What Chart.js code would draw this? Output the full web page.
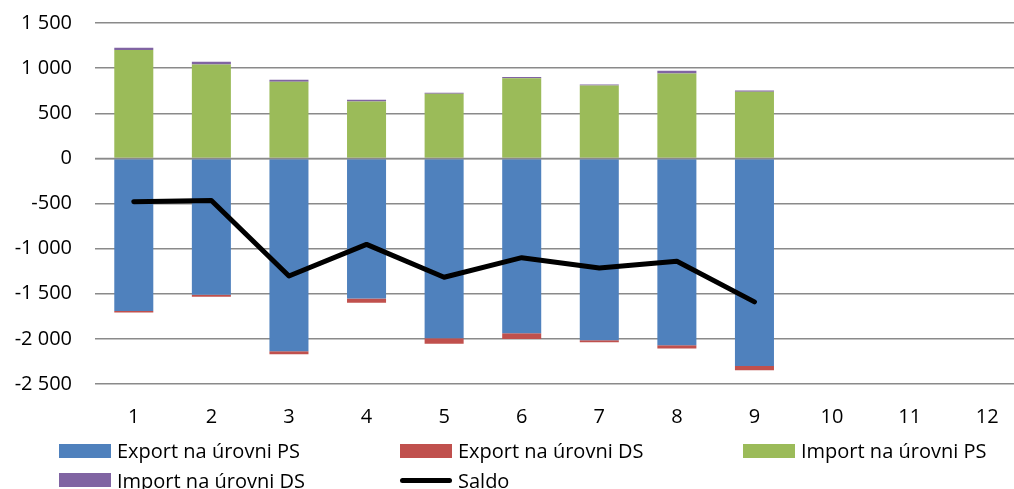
<!DOCTYPE html>
<html>
    <head>
        <meta charset="utf-8">
        <title>Export / Import</title>
        <script src="https://cdn.jsdelivr.net/npm/chart.js@4.4.0/dist/chart.umd.min.js"></script>
        <style>
            html, body {
                margin: 0;
                padding: 0;
                background: #fff;
                overflow: hidden;
            }

            #page {
                position: relative;
                width: 1014px;
                height: 489px;
                overflow: hidden;
            }

            #wrap {
                position: absolute;
                left: 0;
                top: -12px;
                width: 1040px;
                height: 501px;
            }

            #legend {
                position: absolute;
                left: 59px;
                top: 436px;
                display: grid;
                grid-template-columns: 341px 343px 300px;
                grid-auto-rows: 29.5px;
                font-family: "Open Sans", sans-serif;
                font-size: 20px;
                color: #000;
            }

            .item {
                display: flex;
                align-items: center;
                white-space: nowrap;
            }

            .box {
                width: 52px;
                height: 14px;
                margin-right: 6px;
            }

            .dash {
                width: 52px;
                height: 5px;
                border-radius: 3px;
                background: #000;
                margin-right: 6px;
            }
        </style>
    </head>

    <body>
        <div id="page">
            <div id="wrap">
                <canvas id="chart"></canvas>
            </div>
            <div id="legend"></div>
        </div>
        <script>
            const months = ["1", "2", "3", "4", "5", "6", "7", "8", "9", "10", "11", "12"];
            const exportPS = [-1692, -1512, -2137, -1552, -1994, -1939, -2016, -2071, -2300];
            const exportDS = [-17, -20, -33, -48, -60, -63, -22, -37, -48];
            const importPS = [1202, 1040, 848, 630, 716, 889, 807, 940, 738];
            const importDS = [25, 30, 22, 19, 11, 14, 11, 30, 14];
            const saldo = [-481, -467, -1303, -953, -1317, -1100, -1214, -1140, -1590];

            const fontName = "'Open Sans', sans-serif";

            function fmt(v) {
                var s = Math.abs(v).toString().replace(/\B(?=(\d{3})+(?!\d))/g, " ");
                return (v < 0 ? "-" : "") + s;
            }

            // zero line goes over the bars like the Excel category axis
            const zeroLine = {
                id: "zeroLine",
                afterDatasetsDraw: function(chart) {
                    var y = chart.scales.y.getPixelForValue(0);
                    var ctx = chart.ctx;
                    ctx.save();
                    ctx.strokeStyle = "#8a8a8a";
                    ctx.lineWidth = 1.5;
                    ctx.beginPath();
                    ctx.moveTo(chart.chartArea.left, y);
                    ctx.lineTo(chart.chartArea.right, y);
                    ctx.stroke();
                    ctx.restore();
                }
            };

            var ctx = document.getElementById("chart").getContext("2d");
            var chart = new Chart(ctx, {
                type: "bar",
                data: {
                    labels: months,
                    datasets: [
                        {label: "Export na úrovni PS", data: exportPS, backgroundColor: "#4F81BD", order: 1},
                        {label: "Export na úrovni DS", data: exportDS, backgroundColor: "#C0504D", order: 1},
                        {label: "Import na úrovni PS", data: importPS, backgroundColor: "#9BBB59", order: 1},
                        {label: "Import na úrovni DS", data: importDS, backgroundColor: "#8064A2", order: 1},
                        {
                            type: "line",
                            label: "Saldo",
                            data: saldo,
                            borderColor: "#000",
                            backgroundColor: "#000",
                            borderWidth: 5,
                            pointRadius: 0,
                            borderCapStyle: "round",
                            borderJoinStyle: "round",
                            tension: 0,
                            order: 0
                        }
                    ]
                },
                options: {
                    responsive: true,
                    maintainAspectRatio: false,
                    animation: false,
                    categoryPercentage: 1,
                    barPercentage: 0.503,
                    layout: {
                        padding: {top: 10, right: 14, left: 0, bottom: 0}
                    },
                    plugins: {
                        legend: {display: false},
                        tooltip: {enabled: false}
                    },
                    scales: {
                        x: {
                            stacked: true,
                            grid: {display: false, drawTicks: false},
                            border: {display: false},
                            ticks: {
                                padding: 21,
                                color: "#000",
                                font: {family: fontName, size: 20}
                            },
                            afterFit: function(scale) {
                                scale.height = 105;
                            }
                        },
                        y: {
                            stacked: true,
                            min: -2500,
                            max: 1500,
                            grid: {color: "#8a8a8a", lineWidth: 1.5, drawTicks: false},
                            border: {display: false},
                            ticks: {
                                stepSize: 500,
                                padding: 23,
                                color: "#000",
                                font: {family: fontName, size: 20},
                                callback: function(v) { return fmt(v); }
                            },
                            afterFit: function(scale) {
                                scale.width = 95;
                            }
                        }
                    }
                },
                plugins: [zeroLine]
            });

            // legend in three columns under the axis
            var leg = document.getElementById("legend");
            chart.data.datasets.forEach(function(ds) {
                var item = document.createElement("div");
                item.className = "item";
                var mark = document.createElement("span");
                if (ds.type === "line") {
                    mark.className = "dash";
                } else {
                    mark.className = "box";
                    mark.style.background = ds.backgroundColor;
                }
                item.appendChild(mark);
                item.appendChild(document.createTextNode(ds.label));
                leg.appendChild(item);
            });
        </script>
    </body>
</html>
